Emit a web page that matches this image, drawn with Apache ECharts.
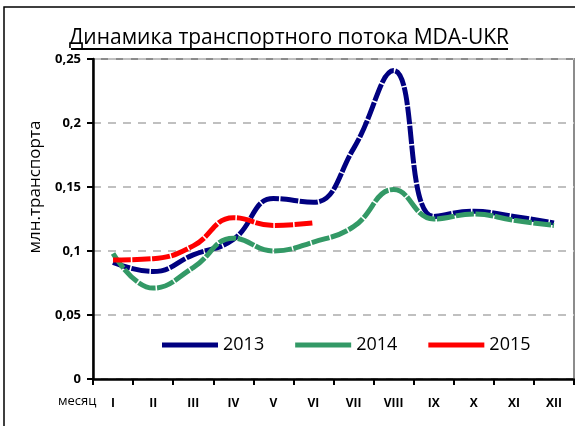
<!DOCTYPE html>
<html>
<head>
<meta charset="utf-8">
<script src="https://cdn.jsdelivr.net/npm/echarts@6/dist/echarts.min.js"></script>
<style>
  html, body { margin: 0; padding: 0; background: #fff; }
  #chart { width: 575px; height: 426px; }
</style>
</head>
<body>
<div id="chart"></div>
<script>
// месяцы
const months = ['I', 'II', 'III', 'IV', 'V', 'VI', 'VII', 'VIII', 'IX', 'X', 'XI', 'XII'];
// млн. транспорта по годам
const y2013 = [0.091, 0.084, 0.097, 0.109, 0.141, 0.138, 0.180, 0.241, 0.127, 0.131, 0.127, 0.122];
const y2014 = [0.098, 0.071, 0.087, 0.110, 0.100, 0.107, 0.119, 0.148, 0.125, 0.129, 0.124, 0.120];
const y2015 = [0.093, 0.094, 0.104, 0.126, 0.120, 0.122];
const yTicks = [0, 0.05, 0.1, 0.15, 0.2, 0.25];

const font = '"Open Sans", "Noto Sans", sans-serif';

function mkLine(name, data, color) {
    return {
        name: name,
        type: 'line',
        data: data,
        smooth: 0.45,
        symbol: 'none',
        lineStyle: { color: color, width: 5, type: [18, 1.5], cap: 'butt' },
        itemStyle: { color: color }
    };
}

let chart = echarts.init(document.getElementById('chart'));
chart.setOption({
    animation: false,
    backgroundColor: '#fff',
    textStyle: { fontFamily: font },
    grid: {
        left: 93, top: 59, right: 1, bottom: 47,
        show: true, borderColor: '#8c8c8c', borderWidth: 2
    },
    legend: {
        left: 162, top: 336,
        icon: 'rect',
        itemWidth: 56, itemHeight: 5, itemGap: 31, padding: 0,
        textStyle: { fontSize: 18, color: '#000', fontFamily: font },
        data: ['2013', '2014', '2015']
    },
    xAxis: {
        type: 'category',
        data: months,
        boundaryGap: true,
        axisLine: { lineStyle: { color: '#000', width: 2.5 } },
        axisTick: { show: true, length: 6, lineStyle: { color: '#000', width: 2 } },
        axisLabel: { color: '#000', fontWeight: 'bold', fontSize: 12, margin: 19, fontFamily: font }
    },
    yAxis: {
        type: 'value',
        min: yTicks[0],
        max: yTicks[yTicks.length - 1],
        interval: 0.05,
        axisLine: { show: true, lineStyle: { color: '#000', width: 2.5 } },
        axisTick: { show: true, length: 6, lineStyle: { color: '#000', width: 2 } },
        axisLabel: {
            color: '#000', fontWeight: 'bold', fontSize: 13, margin: 12, fontFamily: font,
            formatter: v => String(+v.toFixed(2)).replace('.', ',')
        },
        splitLine: { lineStyle: { color: '#c0c0c0', width: 2, type: [8, 7] } }
    },
    graphic: [
        { type: 'rect', shape: { x: 4, y: 7, width: 700, height: 600 }, style: { fill: 'none', stroke: '#000', lineWidth: 1.5 }, silent: true, z: -10 },
        { type: 'text', x: 289, y: 28, style: { text: 'Динамика транспортного потока MDA-UKR', font: '21px ' + font, fill: '#000', textAlign: 'center' } },
        { type: 'line', shape: { x1: 71, y1: 49, x2: 508, y2: 49 }, style: { stroke: '#000', lineWidth: 2 } },
        { type: 'text', x: 35, y: 187, rotation: Math.PI / 2, style: { text: 'млн.транспорта', font: '17px ' + font, fill: '#000', textAlign: 'center', textVerticalAlign: 'middle' } },
        { type: 'text', x: 58, y: 395, style: { text: 'месяц', font: '13px ' + font, fill: '#000' } }
    ],
    series: [
        mkLine('2013', y2013, '#000080'),
        mkLine('2014', y2014, '#339966'),
        mkLine('2015', y2015, '#ff0000')
    ]
});
</script>
</body>
</html>
